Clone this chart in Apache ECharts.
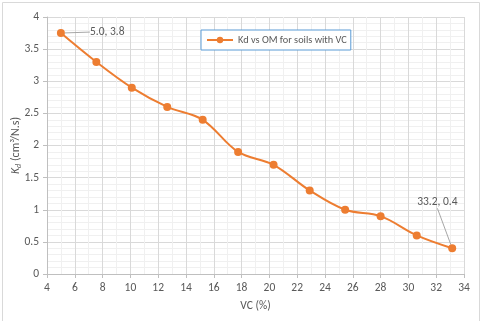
<!DOCTYPE html>
<html><head><meta charset="utf-8">
<script src="https://cdn.jsdelivr.net/npm/echarts@6/dist/echarts.min.js"></script>
<style>html,body{margin:0;padding:0;background:#fff}#c{width:480px;height:321px}</style>
</head><body><div id="c"></div>
<script>
const vc = [5.0, 7.55, 10.1, 12.65, 15.2, 17.75, 20.3, 22.9, 25.45, 28.0, 30.6, 33.15];
const kd = [3.75, 3.3, 2.9, 2.6, 2.4, 1.9, 1.7, 1.3, 1.0, 0.9, 0.6, 0.4];
const seriesName = 'Kd vs OM for soils with VC';
const annotated = {0: '5.0, 3.8', 11: '33.2, 0.4'};

const FONT = 'Carlito, Calibri, Lato, sans-serif';
const TXT = '#595959';
const FS = 11.5;
const data = vc.map((x, i) => {
  const item = {value: [x, kd[i]]};
  if (annotated[i] !== undefined) {
    item.label = {show: true, formatter: annotated[i]};
  }
  return item;
});

const chart = echarts.init(document.getElementById('c'));
chart.setOption({
  animation: false,
  textStyle: {fontFamily: FONT},
  graphic: [{type: 'rect', left: 0, top: 0, shape: {width: 477, height: 319},
    style: {fill: 'none', stroke: '#d9d9d9', lineWidth: 1}, silent: true}],
  grid: {left: 47, right: 16, top: 17, bottom: 47, containLabel: false, outerBoundsMode: 'none'},
  legend: {
    data: [seriesName], left: 201, top: 30,
    padding: [5, 4, 5, 5],
    borderColor: '#5b9bd5', borderWidth: 1, backgroundColor: '#fff',
    itemWidth: 26, itemHeight: 8, itemGap: 4,
    textStyle: {color: TXT, fontSize: 10.3, fontFamily: FONT}
  },
  xAxis: {
    type: 'value', min: 4, max: 34, interval: 2,
    name: 'VC (%)', nameLocation: 'middle', nameGap: 26, nameMoveOverlap: false,
    nameTextStyle: {color: TXT, fontSize: FS, fontFamily: FONT},
    axisLine: {show: true, lineStyle: {color: '#bfbfbf'}},
    axisTick: {show: true, length: 4, lineStyle: {color: '#bfbfbf'}},
    axisLabel: {color: TXT, fontSize: FS, margin: 8, fontFamily: FONT},
    splitLine: {show: true, lineStyle: {color: '#d9d9d9'}},
    minorTick: {show: false, splitNumber: 2},
    minorSplitLine: {show: true, lineStyle: {color: '#f0f0f0'}}
  },
  yAxis: {
    type: 'value', min: 0, max: 4, interval: 0.5,
    name: '{i|K}{s|d}{n| (cm³/N.s)}', nameLocation: 'middle', nameGap: 24, nameMoveOverlap: false,
    nameTextStyle: {color: TXT, fontSize: 12, fontFamily: FONT,
      rich: {i: {fontStyle: 'italic', fontSize: 12, color: TXT, fontFamily: FONT, verticalAlign: 'middle'},
             s: {fontStyle: 'italic', fontSize: 8, color: TXT, fontFamily: FONT, padding: [6, 0, 0, 0], verticalAlign: 'middle'},
             n: {fontSize: 12, color: TXT, fontFamily: FONT, verticalAlign: 'middle'}}},
    axisLine: {show: true, lineStyle: {color: '#bfbfbf'}},
    axisTick: {show: true, length: 4, lineStyle: {color: '#bfbfbf'}},
    axisLabel: {color: TXT, fontSize: FS, margin: 8, fontFamily: FONT},
    splitLine: {show: true, lineStyle: {color: '#d9d9d9'}},
    minorTick: {show: false, splitNumber: 5},
    minorSplitLine: {show: true, lineStyle: {color: '#f0f0f0'}}
  },
  series: [{
    name: seriesName, type: 'line', smooth: 0.35, data: data,
    symbol: 'circle', symbolSize: 8,
    itemStyle: {color: '#ed7d31'},
    lineStyle: {color: '#ed7d31', width: 2},
    label: {show: false, color: TXT, fontSize: FS, fontFamily: FONT, position: 'right'},
    labelLine: {show: true, lineStyle: {color: '#a6a6a6', width: 1}},
    labelLayout: function (p) {
      if (p.dataIndex === 0) return {dx: 20, dy: -1};
      if (p.dataIndex === 11) return {dx: -44, dy: -46};
      return {};
    }
  }]
});
</script></body></html>
